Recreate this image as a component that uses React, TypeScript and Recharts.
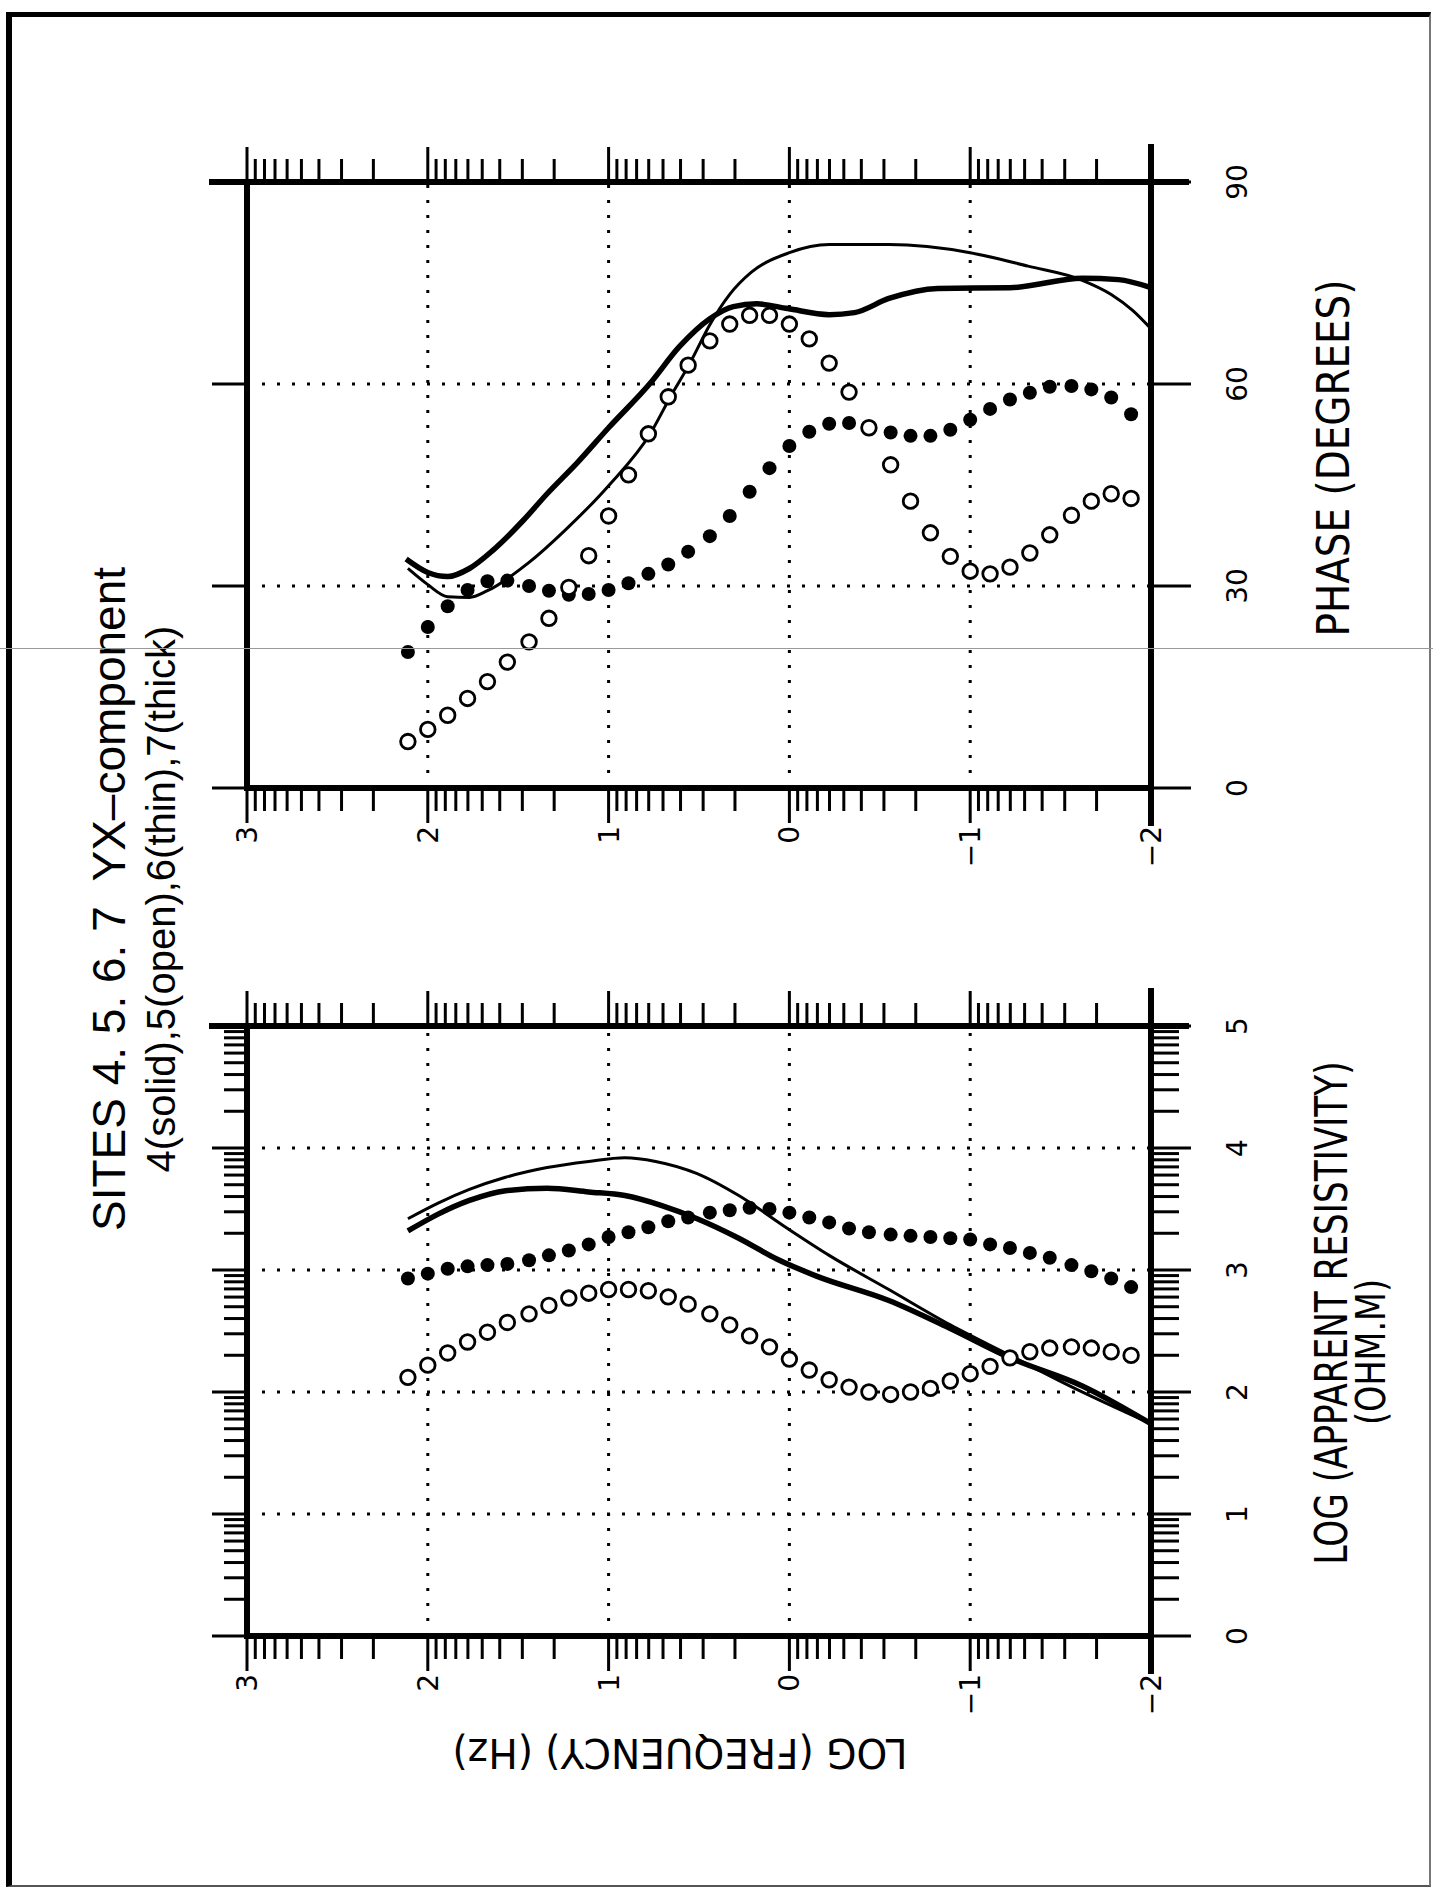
import React from "react";
import { ScatterChart, Scatter, XAxis, YAxis, CartesianGrid, ReferenceLine } from "recharts";

// log10 frequency (Hz) of the measured soundings, sites 4 and 5
const freqs = [
  2.11, 2.0, 1.89, 1.78, 1.67, 1.56, 1.44, 1.33, 1.22, 1.11, 1.0, 0.89, 0.78, 0.67, 0.56, 0.44, 0.33, 0.22, 0.11,
  0.0, -0.11, -0.22, -0.33, -0.44, -0.56, -0.67, -0.78, -0.89, -1.0, -1.11, -1.22, -1.33, -1.44, -1.56, -1.67,
  -1.78, -1.89,
];

// log apparent resistivity (ohm.m)
const rho4 = [
  2.93, 2.97, 3.01, 3.03, 3.04, 3.05, 3.08, 3.12, 3.16, 3.21, 3.27, 3.31, 3.35, 3.4, 3.43, 3.47, 3.49, 3.51, 3.5,
  3.47, 3.43, 3.39, 3.34, 3.31, 3.29, 3.28, 3.27, 3.26, 3.25, 3.21, 3.18, 3.14, 3.1, 3.04, 2.99, 2.93, 2.86,
];
const rho5 = [
  2.12, 2.22, 2.32, 2.41, 2.49, 2.57, 2.64, 2.71, 2.77, 2.81, 2.84, 2.84, 2.83, 2.78, 2.72, 2.64, 2.55, 2.46, 2.37,
  2.27, 2.18, 2.1, 2.04, 2.0, 1.98, 2.0, 2.03, 2.09, 2.15, 2.21, 2.28, 2.33, 2.36, 2.37, 2.36, 2.33, 2.3,
];

// phase (degrees)
const phase4 = [
  20.2, 23.9, 27.0, 29.4, 30.7, 30.8, 30.0, 29.3, 28.7, 28.8, 29.4, 30.4, 31.8, 33.2, 35.1, 37.4, 40.4, 44.0, 47.5,
  50.8, 52.9, 54.1, 54.2, 53.6, 52.8, 52.3, 52.3, 53.2, 54.7, 56.3, 57.7, 58.7, 59.6, 59.7, 59.2, 58.0, 55.5,
];
const phase5 = [
  6.9, 8.7, 10.8, 13.3, 15.8, 18.7, 21.7, 25.2, 29.8, 34.5, 40.4, 46.5, 52.6, 58.1, 62.8, 66.4, 68.9, 70.2, 70.2,
  68.9, 66.7, 63.1, 58.8, 53.5, 48.0, 42.6, 37.9, 34.4, 32.2, 31.8, 32.8, 34.9, 37.6, 40.5, 42.6, 43.7, 43.0,
];

// model curves: site 6 (thin) and site 7 (thick)
const rho6Freqs = [2.11, 1.94, 1.77, 1.57, 1.34, 1.11, 0.91, 0.74, 0.51, 0.28, 0.01, -0.22, -0.55, -0.89, -1.22, -1.55, -2.0];
const rho6 = [3.42, 3.55, 3.66, 3.76, 3.84, 3.89, 3.92, 3.89, 3.79, 3.61, 3.34, 3.12, 2.84, 2.55, 2.3, 2.05, 1.74];
const rho7Freqs = [2.11, 1.94, 1.77, 1.57, 1.34, 1.11, 0.91, 0.71, 0.51, 0.28, 0.07, -0.15, -0.55, -0.89, -1.22, -1.62, -2.0];
const rho7 = [3.32, 3.46, 3.57, 3.65, 3.67, 3.64, 3.61, 3.53, 3.42, 3.26, 3.09, 2.95, 2.75, 2.52, 2.28, 2.05, 1.74];

const phase6Freqs = [
  2.11, 2.0, 1.89, 1.77, 1.67, 1.44, 1.24, 1.0, 0.77, 0.66, 0.55, 0.44, 0.33, 0.21, 0.0, -0.22, -0.55, -1.0, -1.32,
  -1.62, -1.78, -1.9, -2.0,
];
const phase6 = [
  32.6, 30.2, 28.4, 28.3, 29.3, 33.5, 38.3, 44.9, 52.6, 58.0, 63.1, 68.8, 73.3, 76.6, 79.5, 80.7, 80.7, 79.5, 77.5,
  75.4, 73.3, 70.9, 68.2,
];
const phase7Freqs = [
  2.12, 2.0, 1.89, 1.77, 1.64, 1.47, 1.34, 1.17, 1.0, 0.77, 0.61, 0.44, 0.31, 0.18, 0.01, -0.22, -0.36, -0.55, -0.82,
  -1.22, -1.62, -1.82, -2.0,
];
const phase7 = [
  34.0, 32.0, 31.4, 32.6, 35.3, 39.8, 43.7, 48.4, 53.5, 60.1, 65.5, 69.7, 71.5, 71.9, 71.2, 70.3, 70.6, 72.7, 74.2,
  74.3, 75.7, 75.5, 74.3,
];

// axes
const freqTicks = [-2, -1, 0, 1, 2, 3];
const freqGrid = [-1, 0, 1, 2];
const rhoTicks = [0, 1, 2, 3, 4, 5];
const rhoGrid = [1, 2, 3, 4];
const phaseTicks = [0, 30, 60, 90];
const phaseGrid = [30, 60];

const logMinor = (lo: number, hi: number) => {
  const out: number[] = [];
  for (let d = lo; d < hi; d++) for (let k = 2; k <= 9; k++) out.push(d + Math.log10(k));
  return out;
};
const freqMinor = logMinor(-2, 3);
const rhoMinor = logMinor(0, 5);

const toPoints = (f: number[], v: number[]) => f.map((ff, i) => ({ f: ff, v: v[i] }));

// page is laid out landscape, then turned a quarter counter-clockwise
const PAGE_W = 1889;
const PAGE_H = 1433;
const THIN = 0.01; // axes need a size > 0 to be drawn
const FONT_TICK = "'DejaVu Sans', 'Liberation Sans', sans-serif";
const FONT_LABEL = "'Liberation Sans Narrow', 'DejaVu Sans Condensed', 'Liberation Sans', sans-serif";
const FONT_TITLE = "'Liberation Sans', Arial, sans-serif";

type Box = { left: number; right: number; top: number; bottom: number };

const Dot = (props: any) => <circle cx={props.cx} cy={props.cy} r={7} fill="#000" />;
const Ring = (props: any) => <circle cx={props.cx} cy={props.cy} r={7.3} fill="#fff" stroke="#000" strokeWidth={2.8} />;
const NoMark = () => <g />;
const fmtFreq = (v: number) => (v < 0 ? `\u2212${-v}` : `${v}`);

interface PanelProps {
  box: Box;
  domain: [number, number];
  ticks: number[];
  minor?: number[];
  grid: number[];
  solid: number[];
  open: number[];
  thin: { f: number; v: number }[];
  thick: { f: number; v: number }[];
}

const Panel: React.FC<PanelProps> = ({ box, domain, ticks, minor = [], grid, solid, open, thin, thick }) => {
  const [vmin, vmax] = domain;
  // pixel lengths turned into data units for the frame extensions and tick marks
  const dv = (px: number) => (px * (vmax - vmin)) / (box.right - box.left);
  const df = (px: number) => (px * 5) / (box.bottom - box.top);
  const frame = { stroke: "#000", strokeWidth: 6, strokeLinecap: "square" as const, ifOverflow: "visible" as const, xAxisId: "v", yAxisId: "f" };
  const tk = { stroke: "#000", strokeWidth: 3, ifOverflow: "visible" as const, xAxisId: "v", yAxisId: "f" };

  const tickMarks: React.ReactElement[] = [];
  const addF = (t: number, len: number, key: string) => {
    tickMarks.push(<ReferenceLine key={`fl${key}`} {...tk} segment={[{ x: vmin - dv(len), y: t }, { x: vmin, y: t }]} />);
    tickMarks.push(<ReferenceLine key={`fr${key}`} {...tk} segment={[{ x: vmax, y: t }, { x: vmax + dv(len), y: t }]} />);
  };
  const addV = (t: number, lenB: number, lenT: number, key: string) => {
    tickMarks.push(<ReferenceLine key={`vb${key}`} {...tk} segment={[{ x: t, y: -2 - df(lenB) }, { x: t, y: -2 }]} />);
    tickMarks.push(<ReferenceLine key={`vt${key}`} {...tk} segment={[{ x: t, y: 3 }, { x: t, y: 3 + df(lenT) }]} />);
  };
  freqTicks.forEach((t, i) => addF(t, 35, `M${i}`));
  freqMinor.forEach((t, i) => addF(t, 23, `m${i}`));
  ticks.forEach((t, i) => addV(t, 40, 35, `M${i}`));
  minor.forEach((t, i) => addV(t, 28, 23, `m${i}`));

  return (
    <div style={{ position: "absolute", left: 0, top: 0 }}>
      <ScatterChart
        width={PAGE_W}
        height={PAGE_H}
        margin={{ left: box.left, right: PAGE_W - box.right, top: box.top, bottom: PAGE_H - box.bottom }}
      >
        <CartesianGrid
          xAxisId="v"
          yAxisId="f"
          verticalValues={grid}
          horizontalValues={freqGrid}
          stroke="#000"
          strokeWidth={3}
          strokeDasharray="3 12"
        />
        <XAxis
          xAxisId="v"
          dataKey="v"
          type="number"
          domain={domain}
          ticks={ticks}
          interval={0}
          orientation="bottom"
          height={THIN}
          axisLine={false}
          tickLine={false}
          tickSize={40}
          tickMargin={36}
          tick={{ fontSize: 28, fill: "#000", fontFamily: FONT_TICK }}
          allowDataOverflow
        />
        <YAxis
          yAxisId="f"
          dataKey="f"
          type="number"
          domain={[-2, 3]}
          ticks={freqTicks}
          interval={0}
          orientation="left"
          width={THIN}
          axisLine={false}
          tickLine={false}
          tickSize={35}
          tickMargin={3}
          tickFormatter={fmtFreq}
          tick={{ fontSize: 28, fill: "#000", fontFamily: FONT_TICK }}
          allowDataOverflow
        />

        <Scatter xAxisId="v" yAxisId="f" data={thin} shape={NoMark} fill="#000" line={{ strokeWidth: 3 }}
          lineType="joint" lineJointType="monotoneY" isAnimationActive={false} />
        <Scatter xAxisId="v" yAxisId="f" data={thick} shape={NoMark} fill="#000" line={{ strokeWidth: 5.5 }}
          lineType="joint" lineJointType="monotoneY" isAnimationActive={false} />
        <Scatter xAxisId="v" yAxisId="f" data={toPoints(freqs, solid)} shape={Dot} isAnimationActive={false} />
        <Scatter xAxisId="v" yAxisId="f" data={toPoints(freqs, open)} shape={Ring} isAnimationActive={false} />

        {tickMarks}
        <ReferenceLine {...frame} segment={[{ x: vmin, y: 3 }, { x: vmax, y: 3 }]} />
        <ReferenceLine {...frame} segment={[{ x: vmin, y: -2 }, { x: vmin, y: 3 }]} />
        <ReferenceLine {...frame} segment={[{ x: vmin - dv(35), y: -2 }, { x: vmax + dv(35), y: -2 }]} />
        <ReferenceLine {...frame} segment={[{ x: vmax, y: -2 - df(35) }, { x: vmax, y: 3 + df(35) }]} />
      </ScatterChart>
    </div>
  );
};

const Labels: React.FC = () => (
  <svg width={PAGE_W} height={PAGE_H} style={{ position: "absolute", left: 0, top: 0, pointerEvents: "none" }}>
    <text x={990} y={125} textAnchor="middle" fontSize={46} fontFamily={FONT_TITLE} style={{ whiteSpace: "pre" }}>
      SITES 4. 5. 6. 7  YX–component
    </text>
    <text x={990} y={175} textAnchor="middle" fontSize={40} fontFamily={FONT_TITLE}>
      4(solid),5(open),6(thin),7(thick)
    </text>
    <text x={1431} y={1349} textAnchor="middle" fontSize={44} fontFamily={FONT_LABEL} textLength={357} lengthAdjust="spacingAndGlyphs">
      PHASE (DEGREES)
    </text>
    <text x={576} y={1347} textAnchor="middle" fontSize={44} fontFamily={FONT_LABEL} textLength={503} lengthAdjust="spacingAndGlyphs">
      LOG (APPARENT RESISTIVITY)
    </text>
    <text x={537} y={1385} textAnchor="middle" fontSize={40} fontFamily={FONT_LABEL} textLength={146} lengthAdjust="spacingAndGlyphs">
      (OHM.M)
    </text>
    <text transform="translate(150 680) rotate(-90)" textAnchor="middle" fontSize={40} fontFamily={FONT_LABEL}
      textLength={455} lengthAdjust="spacingAndGlyphs">
      LOG (FREQUENCY) (Hz)
    </text>
  </svg>
);

const App: React.FC = () => {
  const resBox: Box = { left: 253, right: 863, top: 247, bottom: 1151 };
  const phaseBox: Box = { left: 1101, right: 1707, top: 247, bottom: 1151 };

  return (
    <div style={{ position: "absolute", left: 0, top: 0, width: 1433, height: 1889, overflow: "hidden", background: "#fff" }}>
      <div
        style={{
          position: "absolute",
          left: 0,
          top: 0,
          width: PAGE_W,
          height: PAGE_H,
          transformOrigin: "0 0",
          transform: `translate(0px, ${PAGE_W}px) rotate(-90deg)`,
        }}
      >
        <Panel
          box={resBox}
          domain={[0, 5]}
          ticks={rhoTicks}
          minor={rhoMinor}
          grid={rhoGrid}
          solid={rho4}
          open={rho5}
          thin={toPoints(rho6Freqs, rho6)}
          thick={toPoints(rho7Freqs, rho7)}
        />
        <Panel
          box={phaseBox}
          domain={[0, 90]}
          ticks={phaseTicks}
          grid={phaseGrid}
          solid={phase4}
          open={phase5}
          thin={toPoints(phase6Freqs, phase6)}
          thick={toPoints(phase7Freqs, phase7)}
        />
        <Labels />
      </div>
      {/* page frame and scanner streak */}
      <div
        style={{
          position: "absolute",
          left: 6,
          top: 12,
          width: 1425,
          height: 1875,
          boxSizing: "border-box",
          borderLeft: "6px solid #000",
          borderTop: "5px solid #000",
          borderRight: "2px solid #777",
          borderBottom: "2px solid #555",
        }}
      />
      <div style={{ position: "absolute", left: 0, top: 648, width: 1433, height: 0, borderTop: "1px solid #999" }} />
    </div>
  );
};

export default App;
